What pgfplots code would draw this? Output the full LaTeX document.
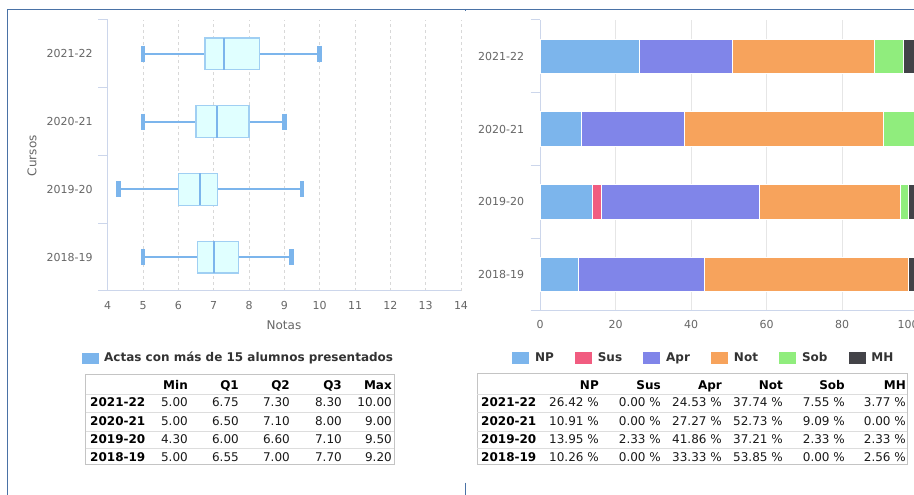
\documentclass[border=0pt]{standalone}
\usepackage{fontspec}
\setmainfont{DejaVu Sans}
\usepackage{pgfplots}
\pgfplotsset{compat=1.18}
\usepgfplotslibrary{statistics}
\definecolor{hcblue}{HTML}{7CB5EC}
\definecolor{boxfill}{HTML}{E0FFFF}
\definecolor{boxborder}{HTML}{A0CFF3}
\definecolor{susc}{HTML}{F15C80}
\definecolor{aprc}{HTML}{8085E9}
\definecolor{notc}{HTML}{F7A35C}
\definecolor{sobc}{HTML}{90ED7D}
\definecolor{mhc}{HTML}{434348}
\definecolor{gridc}{HTML}{E6E6E6}
\definecolor{gridd}{HTML}{D8D8D8}
\definecolor{axisc}{HTML}{CCD6EB}
\definecolor{tickc}{HTML}{666666}
\definecolor{legc}{HTML}{333333}
\definecolor{framec}{HTML}{4A72A6}
\definecolor{tblborder}{HTML}{C4C4C4}
\definecolor{rowline}{HTML}{DDDDDD}
\definecolor{tabtext}{HTML}{1A1A1A}
\newcommand\tickfont{\fontsize{11}{13}\selectfont}
\newcommand\labfont{\fontsize{12}{14}\selectfont}
\newcommand\legfont{\fontsize{12}{14}\selectfont\bfseries}
\newcommand\tabfont{\fontsize{12}{14}\selectfont}
\begin{document}
\begin{tikzpicture}[x=1pt,y=1pt]
\path[use as bounding box] (0,0) rectangle (914,495);
\clip (0,0) rectangle (914,495);
\fill[white] (0,0) rectangle (914,495);
% frame lines
\draw[framec, line width=1.3pt] (7.5,0) -- (7.5,485.5) -- (914,485.5);
\draw[framec, line width=1pt] (465.5,485.5) -- (465.5,483.5);
\draw[framec, line width=1.2pt] (465.5,12.3) -- (465.5,0);

% ---------------- left chart: box plots ----------------
\begin{axis}[
  at={(107.7pt,204pt)}, anchor=south west, scale only axis,
  width=353.3pt, height=271pt,
  xmin=4, xmax=14, ymin=-0.5, ymax=3.5,
  axis x line=bottom, axis y line=left,
  axis line style={-, draw=axisc, line width=1pt},
  xtick={4,5,...,14}, ytick={0,1,2,3},
  yticklabels={2018-19,2019-20,2020-21,2021-22},
  minor ytick={-0.5,0.5,1.5,2.5,3.5},
  major tick length=0pt, minor tick length=9.5pt, tick align=outside,
  minor tick style={draw=axisc, line width=1pt},
  xmajorgrids,
  major grid style={draw=gridd, dash pattern=on 3pt off 3pt, line width=0.8pt},
  tick label style={font=\tickfont, text=tickc},
  /pgf/number format/assume math mode=true,
  xticklabel shift=7pt, yticklabel shift=11.5pt,
  xlabel={Notas}, ylabel={Cursos},
  label style={font=\labfont, text=tickc},
  xlabel style={at={(axis description cs:0.499,-0.1255)}, anchor=center},
  ylabel style={at={(axis description cs:-0.2143,0.499)}, anchor=center},
  boxplot/draw direction=x,
  boxplot/box extend=0.47,
  boxplot/whisker extend=0,
  boxplot/every box/.style={draw=boxborder, fill=boxfill, line width=1.3pt},
  boxplot/every median/.style={draw=hcblue, line width=2pt},
  boxplot/every whisker/.style={draw=hcblue, line width=2pt},
  legend style={at={(axis description cs:-0.0727,-0.2465)}, anchor=west,
    draw=none, fill=none, inner sep=0pt, outer sep=0pt,
    font=\legfont, text=legc, cells={anchor=base west}, nodes={inner sep=0pt},
    column sep=0pt, /tikz/every odd column/.append style={column sep=5.7pt}},
]
\addlegendimage{legend image code/.code={\fill[hcblue] (0pt,-1.7pt) rectangle (16pt,8.7pt);}}
\addlegendentry{Actas con más de 15 alumnos presentados}
\addplot[forget plot, boxplot prepared={draw position=3, lower whisker=5.00, lower quartile=6.75, median=7.30, upper quartile=8.30, upper whisker=10.00}] coordinates {};
\addplot[forget plot, boxplot prepared={draw position=2, lower whisker=5.00, lower quartile=6.50, median=7.10, upper quartile=8.00, upper whisker=9.00}] coordinates {};
\addplot[forget plot, boxplot prepared={draw position=1, lower whisker=4.30, lower quartile=6.00, median=6.60, upper quartile=7.10, upper whisker=9.50}] coordinates {};
\addplot[forget plot, boxplot prepared={draw position=0, lower whisker=5.00, lower quartile=6.55, median=7.00, upper quartile=7.70, upper whisker=9.20}] coordinates {};
% whisker caps
\addplot[forget plot, only marks, mark=|, mark size=8pt, mark options={line width=4.6pt, draw=hcblue}]
  coordinates {(5.00,3) (10.00,3) (5.00,2) (9.00,2) (4.30,1) (9.50,1) (5.00,0) (9.20,0)};
\end{axis}

% ---------------- right chart: stacked bars ----------------
\begin{axis}[
  at={(540pt,184pt)}, anchor=south west, scale only axis,
  width=377.7pt, height=291pt,
  xmin=0, xmax=100, ymin=-0.5, ymax=3.5,
  xbar stacked, bar width=34.5pt,
  axis x line=bottom, axis y line=left,
  axis line style={-, draw=axisc, line width=1pt},
  xtick={0,20,...,80}, ytick={0,1,2,3},
  extra x ticks={100}, extra x tick labels={100},
  extra x tick style={xticklabel style={xshift=-9.5pt}},
  yticklabels={2018-19,2019-20,2020-21,2021-22},
  minor ytick={-0.5,0.5,1.5,2.5,3.5},
  major tick length=0pt, minor tick length=9.5pt, tick align=outside,
  minor tick style={draw=axisc, line width=1pt},
  xmajorgrids,
  major grid style={draw=gridc, line width=1pt},
  tick label style={font=\tickfont, text=tickc},
  /pgf/number format/assume math mode=true,
  xticklabel shift=6.3pt, yticklabel shift=12.3pt,
  legend columns=6,
  legend style={at={(axis description cs:-0.0733,-0.161)}, anchor=west,
    draw=none, fill=none, inner sep=0pt, outer sep=0pt,
    font=\legfont, text=legc, cells={anchor=base west}, nodes={inner sep=0pt},
    column sep=0pt,
    /tikz/every odd column/.append style={column sep=5.7pt},
    /tikz/every even column/.append style={column sep=21.3pt}},
]
\addplot[fill=hcblue, draw=white, line width=1pt, legend image code/.code={\fill[hcblue] (0pt,-1.7pt) rectangle (16pt,8.7pt);}]
  coordinates {(26.42,3) (10.91,2) (13.95,1) (10.26,0)};
\addlegendentry{NP}
\addplot[fill=susc, draw=white, line width=1pt, legend image code/.code={\fill[susc] (0pt,-1.7pt) rectangle (16pt,8.7pt);}]
  coordinates {(0,3) (0,2) (2.33,1) (0,0)};
\addlegendentry{Sus}
\addplot[fill=aprc, draw=white, line width=1pt, legend image code/.code={\fill[aprc] (0pt,-1.7pt) rectangle (16pt,8.7pt);}]
  coordinates {(24.53,3) (27.27,2) (41.86,1) (33.33,0)};
\addlegendentry{Apr}
\addplot[fill=notc, draw=white, line width=1pt, legend image code/.code={\fill[notc] (0pt,-1.7pt) rectangle (16pt,8.7pt);}]
  coordinates {(37.74,3) (52.73,2) (37.21,1) (53.85,0)};
\addlegendentry{Not}
\addplot[fill=sobc, draw=white, line width=1pt, legend image code/.code={\fill[sobc] (0pt,-1.7pt) rectangle (16pt,8.7pt);}]
  coordinates {(7.55,3) (9.09,2) (2.33,1) (0,0)};
\addlegendentry{Sob}
\addplot[fill=mhc, draw=white, line width=1pt, legend image code/.code={\fill[mhc] (0pt,-1.7pt) rectangle (16pt,8.7pt);}]
  coordinates {(3.77,3) (0,2) (2.33,1) (2.56,0)};
\addlegendentry{MH}
\end{axis}

% ---------------- left table ----------------
\draw[tblborder, line width=1pt] (85.7,495-374.7) rectangle (394,495-464.7);
\foreach \py in {394.7,413,431.3,449}
  \draw[rowline, line width=1pt] (85.7,495-\py) -- (394,495-\py);
\foreach \x/\t in {188/Min,239/Q1,290/Q2,342/Q3,392/Max}
  \node[anchor=base east, inner sep=0pt, font=\tabfont\bfseries, text=black] at (\x,495-389.3) {\t};
\foreach \py/\lab/\a/\b/\c/\d/\e in {407/2021-22/5.00/6.75/7.30/8.30/10.00,
    425.2/2020-21/5.00/6.50/7.10/8.00/9.00,
    443.3/2019-20/4.30/6.00/6.60/7.10/9.50,
    461.3/2018-19/5.00/6.55/7.00/7.70/9.20}{
  \node[anchor=base west, inner sep=0pt, font=\tabfont\bfseries, text=black] at (90,495-\py) {\lab};
  \node[anchor=base east, inner sep=0pt, font=\tabfont, text=tabtext] at (188,495-\py) {\a};
  \node[anchor=base east, inner sep=0pt, font=\tabfont, text=tabtext] at (239,495-\py) {\b};
  \node[anchor=base east, inner sep=0pt, font=\tabfont, text=tabtext] at (290,495-\py) {\c};
  \node[anchor=base east, inner sep=0pt, font=\tabfont, text=tabtext] at (342,495-\py) {\d};
  \node[anchor=base east, inner sep=0pt, font=\tabfont, text=tabtext] at (392,495-\py) {\e};
}

% ---------------- right table ----------------
\draw[tblborder, line width=1pt] (477.3,495-373.5) rectangle (907.3,495-464.7);
\foreach \py in {394.7,413,431.3,449}
  \draw[rowline, line width=1pt] (477.3,495-\py) -- (907.3,495-\py);
\foreach \x/\t in {599/NP,661/Sus,722/Apr,783/Not,845/Sob,906/MH}
  \node[anchor=base east, inner sep=0pt, font=\tabfont\bfseries, text=black] at (\x,495-389.3) {\t};
\foreach \py/\lab/\a/\b/\c/\d/\e/\f in {407/2021-22/26.42/0.00/24.53/37.74/7.55/3.77,
    425.2/2020-21/10.91/0.00/27.27/52.73/9.09/0.00,
    443.3/2019-20/13.95/2.33/41.86/37.21/2.33/2.33,
    461.3/2018-19/10.26/0.00/33.33/53.85/0.00/2.56}{
  \node[anchor=base west, inner sep=0pt, font=\tabfont\bfseries, text=black] at (481,495-\py) {\lab};
  \node[anchor=base east, inner sep=0pt, font=\tabfont, text=tabtext] at (599,495-\py) {\a~\%};
  \node[anchor=base east, inner sep=0pt, font=\tabfont, text=tabtext] at (661,495-\py) {\b~\%};
  \node[anchor=base east, inner sep=0pt, font=\tabfont, text=tabtext] at (722,495-\py) {\c~\%};
  \node[anchor=base east, inner sep=0pt, font=\tabfont, text=tabtext] at (783,495-\py) {\d~\%};
  \node[anchor=base east, inner sep=0pt, font=\tabfont, text=tabtext] at (845,495-\py) {\e~\%};
  \node[anchor=base east, inner sep=0pt, font=\tabfont, text=tabtext] at (906,495-\py) {\f~\%};
}
\end{tikzpicture}
\end{document}
